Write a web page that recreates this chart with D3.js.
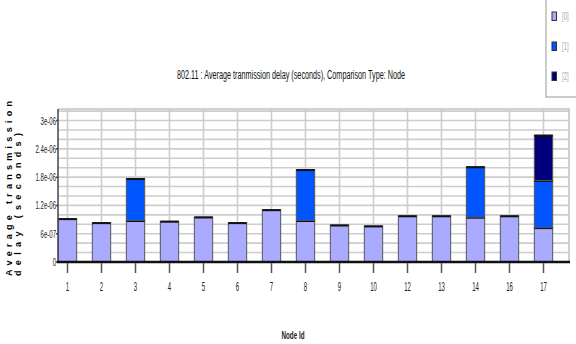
<!DOCTYPE html>
<html>
<head>
<meta charset="utf-8">
<script src="https://cdn.jsdelivr.net/npm/d3@7"></script>
<style>
  body { margin: 0; background: #fff; }
  svg { display: block; font-family: "Liberation Sans", Arial, sans-serif; }
</style>
</head>
<body>
<svg id="chart" width="576" height="344"></svg>
<script>
const nodes = ["1", "2", "3", "4", "5", "6", "7", "8", "9", "10", "12", "13", "14", "16", "17"];
const series0 = [9.2e-7, 8.35e-7, 8.8e-7, 8.65e-7, 9.55e-7, 8.35e-7, 1.11e-6, 8.8e-7, 7.85e-7, 7.65e-7, 9.8e-7, 9.8e-7, 9.5e-7, 9.8e-7, 7.3e-7];
const series1 = [0, 0, 8.9e-7, 0, 0, 0, 0, 1.08e-6, 0, 0, 0, 0, 1.07e-6, 0, 1.0e-6];
const series2 = [0, 0, 0, 0, 0, 0, 0, 0, 0, 0, 0, 0, 0, 0, 9.6e-7];
const seriesNames = ["[0]", "[1]", "[2]"];
const yTicks = [0, 6e-7, 1.2e-6, 1.8e-6, 2.4e-6, 3e-6];
const yTickLabels = ["0", "6e-07", "1.2e-06", "1.8e-06", "2.4e-06", "3e-06"];

const colors = ["#aaaaff", "#0055ff", "#00007a"];
const gridColor = "#cdcdcd";

const plot = { left: 58, right: 569, top: 109, bottom: 262 };

const svg = d3.select("#chart");

const rows = nodes.map((n, i) => ({ node: n, s0: series0[i], s1: series1[i], s2: series2[i] }));
const stacked = d3.stack().keys(["s0", "s1", "s2"])(rows);

const xScale = d3.scalePoint().domain(nodes).range([67.5, 543.5]);
const barWidth = xScale.step() * 0.54;

const yScale = d3.scaleLinear().domain([0, 3.245e-6]).range([plot.bottom, plot.top]);

// grid
const gridVals = d3.range(1, 17).map((k) => k * 2e-7);
svg.append("g")
  .selectAll("line")
  .data(gridVals)
  .enter()
  .append("line")
  .attr("x1", plot.left)
  .attr("x2", plot.right)
  .attr("y1", (d) => yScale(d))
  .attr("y2", (d) => yScale(d))
  .attr("stroke", gridColor)
  .attr("stroke-width", 1.6);

svg.append("g")
  .selectAll("line")
  .data(nodes)
  .enter()
  .append("line")
  .attr("x1", (d) => xScale(d))
  .attr("x2", (d) => xScale(d))
  .attr("y1", plot.top)
  .attr("y2", plot.bottom)
  .attr("stroke", gridColor)
  .attr("stroke-width", 1.6);

// plot frame (top and right)
svg.append("path")
  .attr("d", `M${plot.left},${plot.top}H${plot.right}V${plot.bottom}`)
  .attr("fill", "none")
  .attr("stroke", "#c4c4c4")
  .attr("stroke-width", 1.6);

// bars
const layers = svg.append("g")
  .selectAll("g")
  .data(stacked)
  .enter()
  .append("g")
  .attr("fill", (d, i) => colors[i]);

layers.selectAll("rect")
  .data((d) => d.filter((s) => s[1] - s[0] > 0))
  .enter()
  .append("rect")
  .attr("x", (d) => xScale(d.data.node) - barWidth / 2)
  .attr("y", (d) => yScale(d[1]))
  .attr("width", barWidth)
  .attr("height", (d) => yScale(d[0]) - yScale(d[1]))
  .attr("stroke", "#555")
  .attr("stroke-width", 1);

layers.selectAll("line")
  .data((d) => d.filter((s) => s[1] - s[0] > 0))
  .enter()
  .append("line")
  .attr("x1", (d) => xScale(d.data.node) - barWidth / 2)
  .attr("x2", (d) => xScale(d.data.node) + barWidth / 2)
  .attr("y1", (d) => yScale(d[1]) + 0.5)
  .attr("y2", (d) => yScale(d[1]) + 0.5)
  .attr("stroke", "#111")
  .attr("stroke-width", 2);

// y axis
svg.append("line")
  .attr("x1", plot.left)
  .attr("x2", plot.left)
  .attr("y1", plot.top)
  .attr("y2", plot.bottom)
  .attr("stroke", "#444")
  .attr("stroke-width", 1.5);

const yLab = svg.append("g")
  .selectAll("g")
  .data(yTicks)
  .enter()
  .append("g")
  .attr("transform", (d) => `translate(0,${yScale(d)})`);

yLab.append("line")
  .attr("x1", plot.left - 2)
  .attr("x2", plot.left)
  .attr("stroke", "#444")
  .attr("stroke-width", 1.5);

yLab.append("text")
  .attr("transform", `translate(${plot.left - 2},4) scale(0.55,1)`)
  .attr("text-anchor", "end")
  .attr("font-size", 11)
  .attr("fill", "#222")
  .text((d, i) => yTickLabels[i]);

// x axis
svg.append("line")
  .attr("x1", plot.left - 1)
  .attr("x2", plot.right + 1)
  .attr("y1", plot.bottom)
  .attr("y2", plot.bottom)
  .attr("stroke", "#111")
  .attr("stroke-width", 2.5);

const xLab = svg.append("g")
  .selectAll("g")
  .data(nodes)
  .enter()
  .append("g")
  .attr("transform", (d) => `translate(${xScale(d)},0)`);

xLab.append("line")
  .attr("y1", plot.bottom + 1)
  .attr("y2", 273)
  .attr("stroke", "#555")
  .attr("stroke-width", 1.5);

xLab.append("text")
  .attr("transform", "translate(0,291) scale(0.5,1)")
  .attr("text-anchor", "middle")
  .attr("font-size", 12)
  .attr("fill", "#222")
  .text((d) => d);

// titles
svg.append("text")
  .attr("x", 291)
  .attr("y", 79)
  .attr("text-anchor", "middle")
  .attr("font-size", 12)
  .attr("fill", "#111")
  .attr("textLength", 228)
  .attr("lengthAdjust", "spacingAndGlyphs")
  .text("802.11 : Average tranmission delay (seconds), Comparison Type: Node");

svg.append("text")
  .attr("x", 293)
  .attr("y", 339)
  .attr("text-anchor", "middle")
  .attr("font-size", 11)
  .attr("font-weight", "bold")
  .attr("fill", "#222")
  .attr("textLength", 23)
  .attr("lengthAdjust", "spacingAndGlyphs")
  .text("Node Id");

const yTitle = svg.append("text")
  .attr("transform", "translate(0,276) rotate(-90)")
  .attr("font-size", 9)
  .attr("font-weight", "bold")
  .attr("fill", "#000");

yTitle.append("tspan")
  .attr("x", 0)
  .attr("y", 12)
  .attr("textLength", 175)
  .attr("lengthAdjust", "spacing")
  .text("Average transmission");

yTitle.append("tspan")
  .attr("x", 0)
  .attr("y", 21)
  .attr("textLength", 143)
  .attr("lengthAdjust", "spacing")
  .text("delay (seconds)");

// legend
svg.append("rect")
  .attr("x", 546)
  .attr("y", -2)
  .attr("width", 40)
  .attr("height", 99)
  .attr("fill", "#fff")
  .attr("stroke", "#999")
  .attr("stroke-width", 1);

const leg = svg.append("g")
  .selectAll("g")
  .data(seriesNames)
  .enter()
  .append("g")
  .attr("transform", (d, i) => `translate(552,${12 + i * 30})`);

leg.append("rect")
  .attr("width", 4.5)
  .attr("height", 8.5)
  .attr("fill", (d, i) => colors[i])
  .attr("stroke", "#333")
  .attr("stroke-width", 1);

leg.append("text")
  .attr("transform", "translate(10,8) scale(0.6,1)")
  .attr("font-size", 10)
  .attr("fill", "#aaa")
  .text((d) => d);
</script>
</body>
</html>
